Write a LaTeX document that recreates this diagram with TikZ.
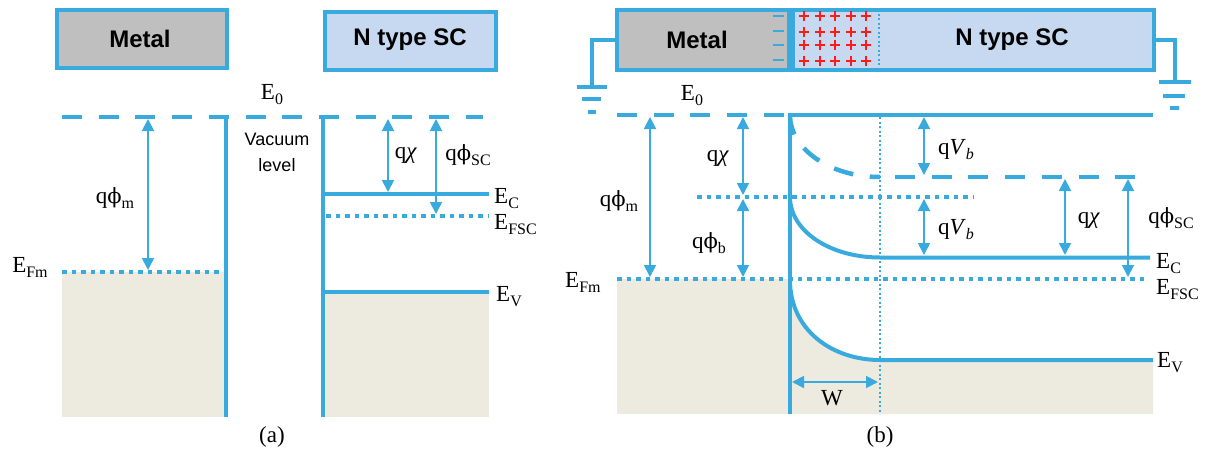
\documentclass[tikz,border=0pt]{standalone}
\usepackage{fontspec}
\setmainfont{Liberation Serif}
\newfontfamily\labsans{Liberation Sans}
\newfontfamily\phifont{DejaVu Serif}
\usetikzlibrary{arrows.meta}
\definecolor{bandblue}{HTML}{38AADE}
\definecolor{metalgray}{HTML}{BFBFBF}
\definecolor{scblue}{HTML}{C6D9F0}
\definecolor{fillbeige}{HTML}{EDEBE0}
\definecolor{plusred}{HTML}{FF1A1A}
\newcommand{\qphi}{q{\phifont\fontsize{21}{24}\selectfont ϕ}}
\newcommand{\lsub}[1]{\raisebox{-0.22em}{\fontsize{16}{18}\selectfont #1}}
\begin{document}
\begin{tikzpicture}[x=1pt,y=-1pt,
  band/.style={draw=bandblue,line width=4pt},
  vac/.style={draw=bandblue,line width=4.5pt,dash pattern=on 20pt off 16.7pt},
  fermi/.style={draw=bandblue,line width=4pt,dash pattern=on 4.5pt off 5pt},
  thindot/.style={draw=bandblue,line width=1.5pt,dash pattern=on 2pt off 2.5pt},
  wire/.style={draw=bandblue,line width=4pt},
  dim/.style={draw=bandblue,line width=1.8pt,{Triangle[width=12pt,length=12pt]}-{Triangle[width=12pt,length=12pt]}},
  lab/.style={font=\fontsize{23}{27}\selectfont, inner sep=0pt},
  boxlab/.style={font=\labsans\bfseries\fontsize{24}{28}\selectfont, inner sep=0pt},
  matbox/.style={draw=bandblue,line width=4pt,inner sep=0pt},
]
\useasboundingbox (0,0) rectangle (1213,452);

% ---------------- panel (a) ----------------
\fill[fillbeige] (62,272) rectangle (226,417);
\fill[fillbeige] (323,292) rectangle (489,417);

\node[matbox,fill=metalgray,minimum width=170pt,minimum height=58pt] (metalA) at (142,39) {};
\node[boxlab] (metalAt) at (140,39) {Metal};
\node[matbox,fill=scblue,minimum width=171pt,minimum height=58pt] (scA) at (410.5,41) {};
\node[boxlab] (scAt) at (410,40) {N type SC};

\draw[vac] (62,117) -- (483,117);
\draw[band] (226,115) -- (226,417);
\draw[fermi] (62,272) -- (224,272);
\draw[band] (323,115) -- (323,417);
\draw[band] (323,194) -- (489,194);
\draw[fermi] (326,216) -- (489,216);
\draw[band] (323,292) -- (489,292);

\coordinate (a1t) at (148,119); \coordinate (a1b) at (148,270);
\coordinate (a2t) at (388,119); \coordinate (a2b) at (388,192);
\coordinate (a3t) at (436,119); \coordinate (a3b) at (436,214);
\draw[dim] (a1t) -- (a1b);
\draw[dim] (a2t) -- (a2b);
\draw[dim] (a3t) -- (a3b);

\node[lab] (E0a) at (272,95) {E\lsub{0}};
\node[lab] (phima) at (115,198) {\qphi\lsub{m}};
\node[lab] (EFma) at (30,267) {E\lsub{Fm}};
\node[font=\labsans\fontsize{18}{26}\selectfont, align=center, inner sep=0pt] (vacl) at (277,152) {Vacuum\\level};
\node[lab] (chia) at (406,155) {q\textit{χ}};
\node[lab] (phisca) at (468,155) {\qphi\lsub{SC}};
\node[lab,anchor=west] (ECa) at (494,199) {E\lsub{C}};
\node[lab,anchor=west] (EFSCa) at (494,225) {E\lsub{FSC}};
\node[lab,anchor=west] (EVa) at (496,297) {E\lsub{V}};
\node[lab] (capa) at (272,437) {(a)};

% ---------------- panel (b) ----------------
\fill[fillbeige] (617,279) rectangle (790,414);
\fill[fillbeige] (790,280) .. controls (790,330) and (832,360) .. (880,360) -- (1153,360) -- (1153,414) -- (790,414) -- cycle;

\node[matbox,fill=metalgray,minimum width=172pt,minimum height=60pt] (metalB) at (703,40) {};
\node[matbox,fill=scblue,minimum width=361pt,minimum height=60pt,anchor=west] (scB) at (metalB.east) {};
\node[boxlab] (metalBt) at (697,40) {Metal};
\node[boxlab] (scBt) at (1012,40) {N type SC};
\draw[thindot] (879,14) -- (879,68);
\foreach \y in {16,31,45,60} {\draw[bandblue,line width=1.2pt] (773,\y) -- (784,\y);}
\foreach \x in {804,820,835,851,866} {
  \foreach \y in {16,32,45,61} {
    \draw[plusred,line width=1.6pt] (\x-5,\y) -- (\x+5,\y) (\x,\y-5) -- (\x,\y+5);
  }
}

\coordinate (gL) at (592,87);
\coordinate (gR) at (1175,82);
\draw[wire] (metalB.west) -| (gL);
\draw[wire] (577,87) -- (607,87);
\draw[wire] (582,99) -- (601,99);
\draw[wire] (588,112) -- (596,112);
\draw[wire] (scB.east) -| (gR);
\draw[wire] (1159,82) -- (1191,82);
\draw[wire] (1163,96) -- (1185,96);
\draw[wire] (1170,108) -- (1179,108);

\draw[vac] (617,115) -- (786,115);
\draw[band] (790,115) -- (1153,115);
\draw[band] (790,113) -- (790,414);
\draw[vac] (790,115) .. controls (790,149) and (830,177) .. (880,177);
\draw[vac,dash phase=21.7pt] (880,177) -- (1138,177);
\draw[thindot] (880,117) -- (880,414);
\draw[fermi] (617,279) -- (1147,279);
\draw[fermi] (697,197) -- (974,197);
\draw[band] (790,197) .. controls (790,231) and (830,257.5) .. (880,257.5) -- (1150,257.5);
\draw[band] (790,280) .. controls (790,330) and (832,360) .. (880,360) -- (1153,360);

\coordinate (b1t) at (650,117); \coordinate (b1b) at (650,277);
\coordinate (b2t) at (743,117); \coordinate (b2b) at (743,195);
\coordinate (b3t) at (743,199); \coordinate (b3b) at (743,277);
\coordinate (b4t) at (924,117); \coordinate (b4b) at (924,175);
\coordinate (b5t) at (924,199); \coordinate (b5b) at (924,255);
\coordinate (b6t) at (1065,179); \coordinate (b6b) at (1065,255);
\coordinate (b7t) at (1128,179); \coordinate (b7b) at (1128,277);
\coordinate (wl) at (792,382); \coordinate (wr) at (878,382);
\draw[dim] (b1t) -- (b1b);
\draw[dim] (b2t) -- (b2b);
\draw[dim] (b3t) -- (b3b);
\draw[dim] (b4t) -- (b4b);
\draw[dim] (b5t) -- (b5b);
\draw[dim] (b6t) -- (b6b);
\draw[dim] (b7t) -- (b7b);
\draw[dim] (wl) -- (wr);

\node[lab] (E0b) at (692,96) {E\lsub{0}};
\node[lab] (phimb) at (619,201) {\qphi\lsub{m}};
\node[lab] (chib) at (718,158) {q\textit{χ}};
\node[lab] (phibb) at (709,243) {\qphi\lsub{b}};
\node[lab] (vb1) at (956,150) {q\textit{V}\lsub{\textit{b}}};
\node[lab] (vb2) at (956,230) {q\textit{V}\lsub{\textit{b}}};
\node[lab] (chib2) at (1089,220) {q\textit{χ}};
\node[lab] (phiscb) at (1171,218) {\qphi\lsub{SC}};
\node[lab,anchor=west] (ECb) at (1156,264) {E\lsub{C}};
\node[lab,anchor=west] (EFSCb) at (1156,290) {E\lsub{FSC}};
\node[lab,anchor=west] (EFmb) at (565,282) {E\lsub{Fm}};
\node[lab,anchor=west] (EVb) at (1157,363) {E\lsub{V}};
\node[lab] (Wb) at (832,398) {W};
\node[lab] (capb) at (880,437) {(b)};
\end{tikzpicture}
\end{document}
